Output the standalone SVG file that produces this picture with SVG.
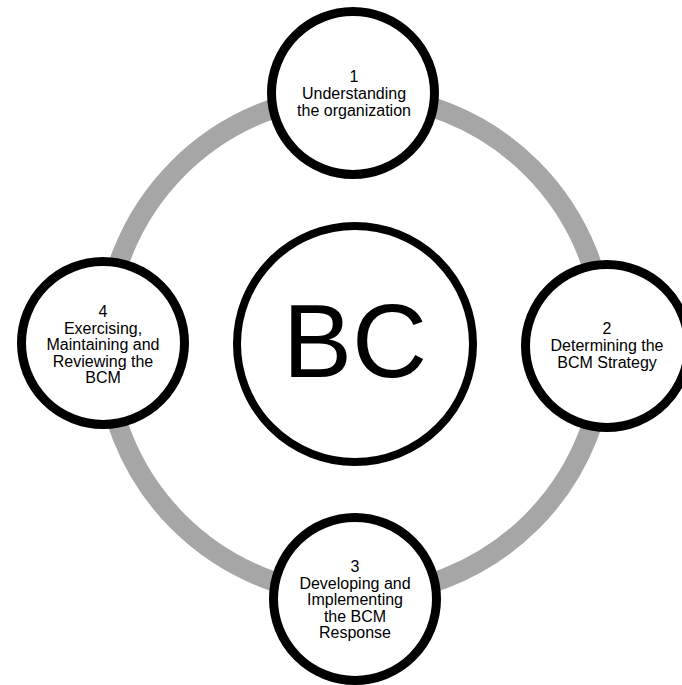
<svg xmlns="http://www.w3.org/2000/svg" width="682" height="685" viewBox="0 0 682 685">
<style>
.node{fill:#fff;stroke:#000;stroke-width:9}
.hub{fill:#fff;stroke:#000;stroke-width:8}
.lbl{font-family:"Liberation Sans",Arial,sans-serif;font-size:16px;fill:#000;text-anchor:middle}
.big{font-family:"Liberation Sans",Arial,sans-serif;font-size:104px;fill:#000;text-anchor:middle}
</style>
<rect width="682" height="685" fill="#fff"/>
<g id="connectors">
<circle cx="355" cy="345" r="250" fill="none" stroke="#a6a6a6" stroke-width="20"/>
</g>
<g id="hub">
<circle class="hub" cx="355" cy="344" r="118"/>
<text class="big" x="355" y="377">BC</text>
</g>
<g id="node1">
<circle class="node" cx="353" cy="93" r="81.5"/>
<text class="lbl" x="354" y="82">1</text>
<text class="lbl" x="354" y="99">Understanding</text>
<text class="lbl" x="354" y="116">the organization</text>
</g>
<g id="node2">
<circle class="node" cx="607" cy="346" r="81.5"/>
<text class="lbl" x="607" y="334">2</text>
<text class="lbl" x="607" y="351">Determining the</text>
<text class="lbl" x="607" y="368">BCM Strategy</text>
</g>
<g id="node3">
<circle class="node" cx="355" cy="599" r="81.5"/>
<text class="lbl" x="355" y="572">3</text>
<text class="lbl" x="355" y="588.5">Developing and</text>
<text class="lbl" x="355" y="605">Implementing</text>
<text class="lbl" x="355" y="621.5">the BCM</text>
<text class="lbl" x="355" y="638">Response</text>
</g>
<g id="node4">
<circle class="node" cx="103" cy="343" r="81.5"/>
<text class="lbl" x="103" y="317">4</text>
<text class="lbl" x="103" y="333.5">Exercising,</text>
<text class="lbl" x="103" y="350">Maintaining and</text>
<text class="lbl" x="103" y="366.5">Reviewing the</text>
<text class="lbl" x="103" y="383">BCM</text>
</g>
</svg>
